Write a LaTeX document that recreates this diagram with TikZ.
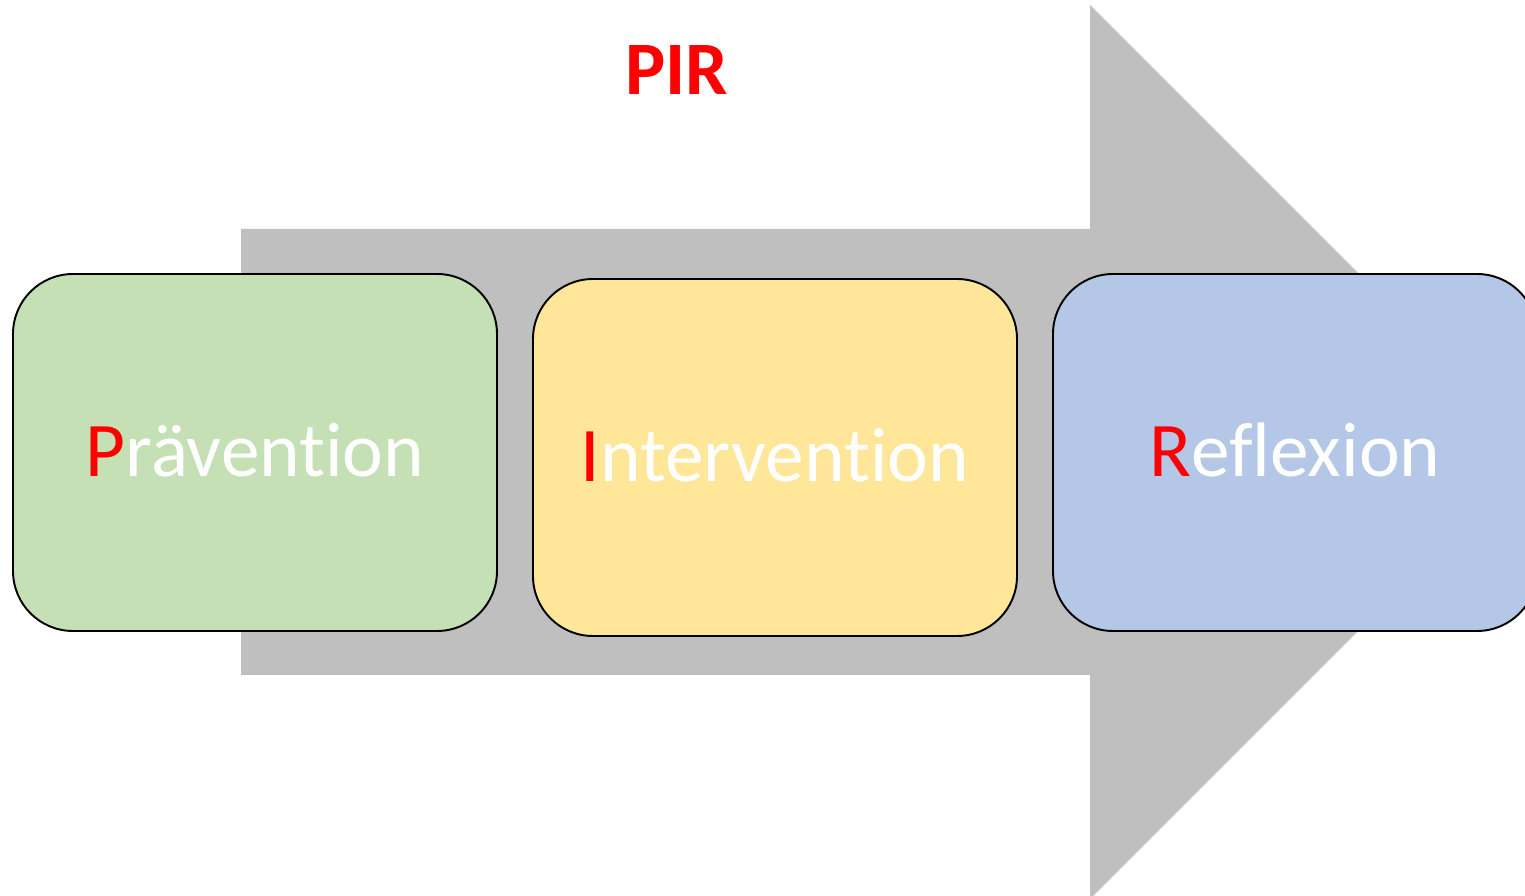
\documentclass[tikz,border=0pt]{standalone}
\usepackage{fontspec}
\setmainfont{Carlito}[Ligatures=NoCommon]
\usetikzlibrary{positioning}
\definecolor{arrowgray}{RGB}{191,191,191}
\definecolor{praevgreen}{RGB}{197,224,180}
\definecolor{intyellow}{RGB}{255,230,153}
\definecolor{reflblue}{RGB}{180,199,231}
\definecolor{pirred}{RGB}{255,0,0}
\newcommand{\phaselabel}[2]{\textcolor{pirred}{#1}#2}

\begin{document}
\begin{tikzpicture}[
    phase/.style={draw=black, line width=1.1pt, rounded corners=1.2cm,
        minimum width=9.68cm, minimum height=7.14cm, inner sep=0pt,
        text height=0.96cm, text depth=0pt,
        text=white, font=\fontsize{44}{52}\selectfont},
]
\useasboundingbox (0,0) rectangle (30.5,17.92);

% ===== Big arrow =====
\fill[arrowgray] (4.82,4.42) -- (21.8,4.42) -- (21.8,-0.06) -- (30.74,8.88)
    -- (21.8,17.82) -- (21.8,13.34) -- (4.82,13.34) -- cycle;

% ===== Title =====
\node[font=\bfseries\fontsize{43}{50}\selectfont, text=pirred] (title) at (13.54,16.52) {PIR};

% ===== Phases =====
\node[phase, fill=praevgreen] (praev) at (5.10,8.87) {\phaselabel{P}{rävention}};
\node[phase, fill=intyellow] (interv) at (15.50,8.77) {\phaselabel{I}{ntervention}};
\node[phase, fill=reflblue] (reflex) at (25.90,8.87) {\phaselabel{R}{eflexion}};

\end{tikzpicture}
\end{document}
